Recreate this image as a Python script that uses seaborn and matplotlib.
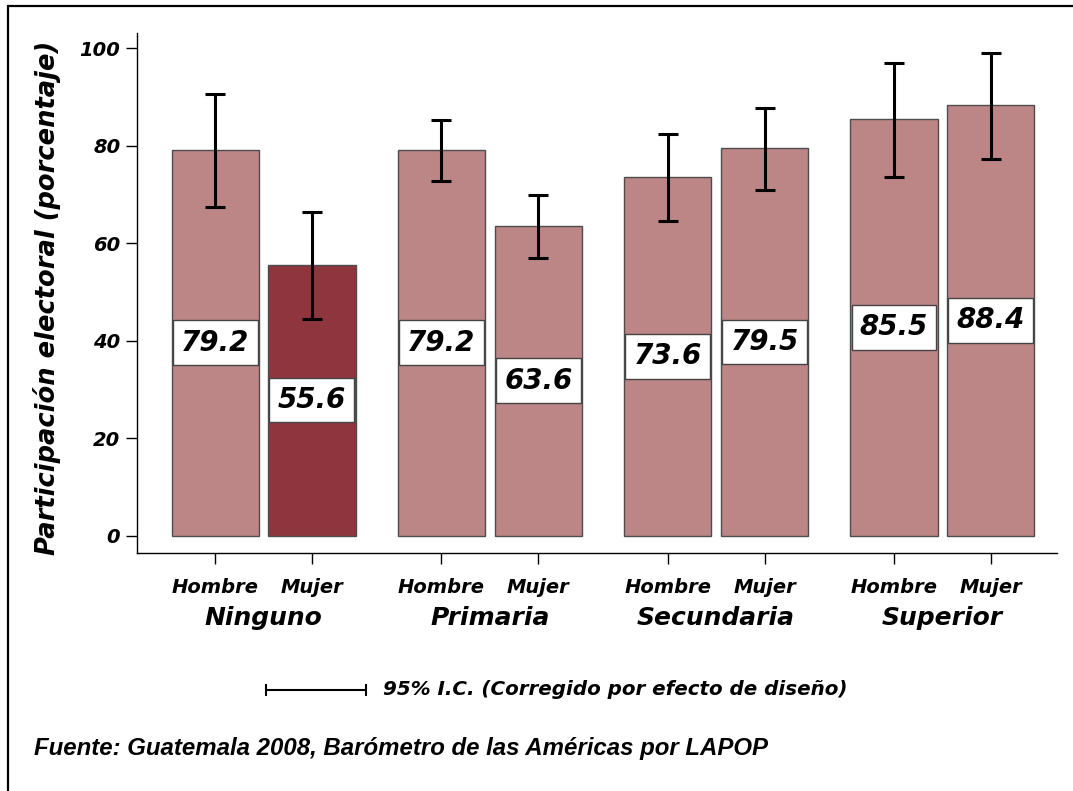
import numpy as np
import pandas as pd
import matplotlib
matplotlib.use("Agg")
import matplotlib.pyplot as plt
from matplotlib.lines import Line2D
import seaborn as sns

niveles = ["Ninguno", "Primaria", "Secundaria", "Superior"]
sexos = ["Hombre", "Mujer"]
hombre = [79.2, 79.2, 73.6, 85.5]
mujer = [55.6, 63.6, 79.5, 88.4]
hombre_inf = [67.4, 72.8, 64.6, 73.6]
hombre_sup = [90.6, 85.2, 82.3, 96.9]
mujer_inf = [44.4, 56.9, 70.8, 77.3]
mujer_sup = [66.3, 69.9, 87.7, 98.9]
destacado = ("Ninguno", "Mujer")

df = pd.DataFrame({
    "nivel": niveles * 2,
    "sexo": ["Hombre"] * 4 + ["Mujer"] * 4,
    "valor": hombre + mujer,
    "inf": hombre_inf + mujer_inf,
    "sup": hombre_sup + mujer_sup,
})

sns.set_style("white")
plt.rcParams["font.family"] = ["DejaVu Sans"]
plt.rcParams["text.color"] = "black"
plt.rcParams["axes.labelcolor"] = "black"
plt.rcParams["xtick.color"] = "black"
plt.rcParams["ytick.color"] = "black"

color_claro = "#BC8586"
color_oscuro = "#8F353E"

fig = plt.figure(figsize=(10.73, 7.91), dpi=100)
ax = fig.add_axes([0.1277, 0.3009, 0.8573, 0.6574])

sns.barplot(data=df, x="nivel", y="valor", hue="sexo", order=niveles,
            hue_order=sexos, palette=[color_claro, color_claro],
            saturation=1, width=0.856, gap=0.1, edgecolor="#4d4d4d",
            linewidth=1, errorbar=None, legend=False, ax=ax)

centros = []
for i, sexo in enumerate(sexos):
    cont = ax.containers[i]
    for j, barra in enumerate(cont):
        nivel = niveles[j]
        fila = df[(df.nivel == nivel) & (df.sexo == sexo)].iloc[0]
        xc = barra.get_x() + barra.get_width() / 2
        centros.append(xc)
        if (nivel, sexo) == destacado:
            barra.set_facecolor(color_oscuro)
        ax.errorbar(xc, fila.valor,
                    yerr=[[fila.valor - fila.inf], [fila.sup - fila.valor]],
                    fmt="none", ecolor="black", elinewidth=2.2,
                    capsize=7, capthick=2.2, zorder=5)
        ax.text(xc, fila.valor / 2, f"{fila.valor:.1f}", ha="center",
                va="center", fontsize=20, fontweight="bold", style="italic",
                zorder=6,
                bbox=dict(boxstyle="square,pad=0.3", facecolor="white",
                          edgecolor="#444444", linewidth=1))

ax.set_xlim(-0.559, 3.506)
ax.set_ylim(-3.55, 103.1)
ax.set_yticks([0, 20, 40, 60, 80, 100])
ax.set_yticklabels(["0", "20", "40", "60", "80", "100"], fontsize=14,
                   fontweight="bold", style="italic")
ax.set_xticks(sorted(centros))
ax.set_xticklabels(["Hombre", "Mujer"] * 4, fontsize=14, fontweight="bold",
                   style="italic")
ax.tick_params(axis="both", direction="out", length=8, width=1,
               color="black", bottom=True, left=True)
ax.tick_params(axis="x", pad=10)
ax.tick_params(axis="y", pad=4)
ax.set_xlabel("")
ax.set_ylabel("Participación electoral (porcentaje)", fontsize=18.5,
              fontweight="bold", style="italic")
ax.yaxis.set_label_coords(-0.083, 0.49)

for s in ["top", "right"]:
    ax.spines[s].set_visible(False)
for s in ["left", "bottom"]:
    ax.spines[s].set_color("black")
    ax.spines[s].set_linewidth(1)

trans = ax.get_xaxis_transform()
for j, nivel in enumerate(niveles):
    ax.text(j, -0.125, nivel, transform=trans, ha="center", va="center",
            fontsize=18, fontweight="bold", style="italic")

# leyenda del intervalo de confianza
fig.add_artist(Line2D([0.248, 0.341], [0.1277, 0.1277], color="black",
                      linewidth=1.5, marker="|", markersize=9,
                      markeredgewidth=1.5))
fig.text(0.357, 0.1277, "95% I.C. (Corregido por efecto de diseño)",
         ha="left", va="center", fontsize=14.3, fontweight="bold",
         style="italic")

fig.text(0.0317, 0.0531,
         "Fuente: Guatemala 2008, Barómetro de las Américas por LAPOP",
         ha="left", va="center", fontsize=17.3, fontweight="bold",
         style="italic", family="Liberation Sans")

# marco
fig.add_artist(Line2D([0.0075, 1.0], [0.9924, 0.9924], color="black",
                      linewidth=1.6))
fig.add_artist(Line2D([0.0075, 0.0075], [0.0, 0.9924], color="black",
                      linewidth=1.6))

fig.savefig("out.png", dpi=100)
